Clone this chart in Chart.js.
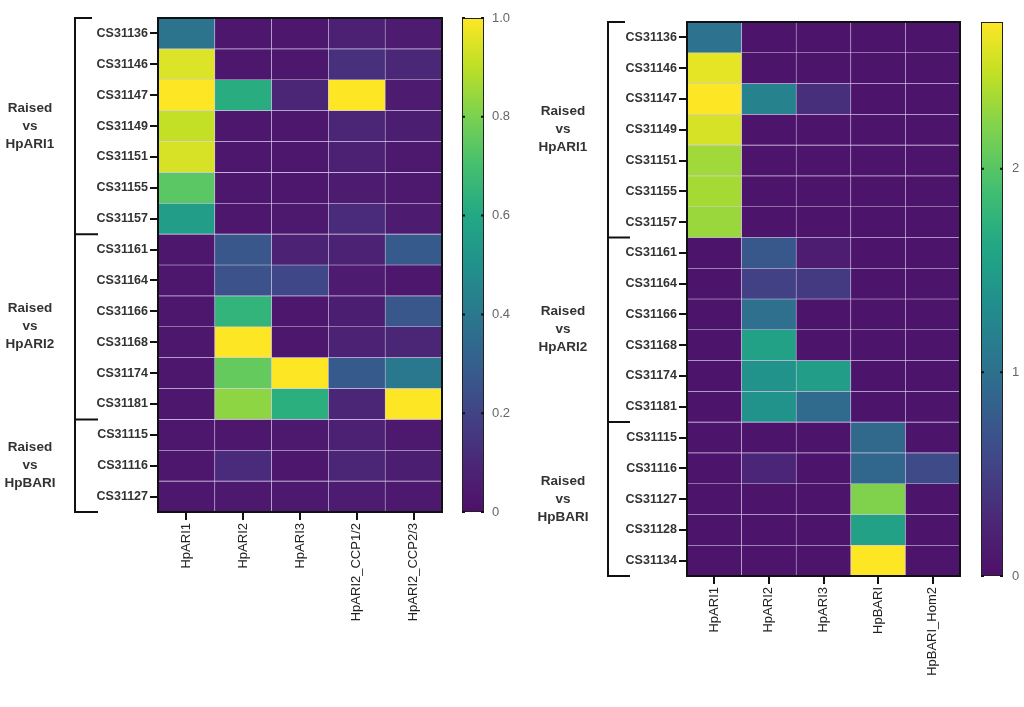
<!DOCTYPE html>
<html>
<head>
<meta charset="utf-8">
<script src="https://cdn.jsdelivr.net/npm/chart.js@4"></script>
<style>
  html, body { margin: 0; padding: 0; background: #fff; width: 1024px; height: 707px; overflow: hidden; }
  .wrap { position: absolute; top: 0; height: 707px; }
  #w1 { left: 0; width: 530px; }
  #w2 { left: 512px; width: 512px; }
  canvas { display: block; }
</style>
</head>
<body>
<div class="wrap" id="w1"><canvas id="c1" width="530" height="707" style="width:530px;height:707px"></canvas></div>
<div class="wrap" id="w2"><canvas id="c2" width="512" height="707" style="width:512px;height:707px"></canvas></div>
<script>
// ---------------- DATA ----------------
const leftRows = ['CS31136','CS31146','CS31147','CS31149','CS31151','CS31155','CS31157',
                  'CS31161','CS31164','CS31166','CS31168','CS31174','CS31181',
                  'CS31115','CS31116','CS31127'];
const leftCols = ['HpARI1','HpARI2','HpARI3','HpARI2_CCP1/2','HpARI2_CCP2/3'];
const leftValues = [
  [0.38, 0.03, 0.03, 0.07, 0.05],
  [0.95, 0.03, 0.03, 0.13, 0.10],
  [1.00, 0.62, 0.09, 1.00, 0.05],
  [0.91, 0.03, 0.03, 0.09, 0.06],
  [0.94, 0.03, 0.03, 0.07, 0.04],
  [0.74, 0.03, 0.03, 0.05, 0.04],
  [0.55, 0.03, 0.04, 0.11, 0.05],
  [0.03, 0.27, 0.08, 0.08, 0.28],
  [0.03, 0.25, 0.21, 0.05, 0.03],
  [0.03, 0.65, 0.03, 0.06, 0.27],
  [0.03, 1.00, 0.03, 0.08, 0.09],
  [0.03, 0.76, 1.00, 0.28, 0.40],
  [0.03, 0.83, 0.63, 0.09, 1.00],
  [0.03, 0.03, 0.04, 0.07, 0.04],
  [0.03, 0.11, 0.03, 0.09, 0.06],
  [0.03, 0.04, 0.04, 0.05, 0.04]
];
const leftGroups = ['HpARI1','HpARI2','HpBARI'];
const leftGroupSizes = [7, 6, 3];
const leftScaleMax = 1.0;
const leftScaleTicks = [0, 0.2, 0.4, 0.6, 0.8, 1.0];

const rightRows = ['CS31136','CS31146','CS31147','CS31149','CS31151','CS31155','CS31157',
                   'CS31161','CS31164','CS31166','CS31168','CS31174','CS31181',
                   'CS31115','CS31116','CS31127','CS31128','CS31134'];
const rightCols = ['HpARI1','HpARI2','HpARI3','HpBARI','HpBARI_Hom2'];
const rightValues = [
  [1.02, 0.05, 0.05, 0.05, 0.05],
  [2.62, 0.05, 0.05, 0.05, 0.05],
  [2.72, 1.20, 0.35, 0.05, 0.05],
  [2.55, 0.05, 0.05, 0.05, 0.05],
  [2.33, 0.05, 0.05, 0.05, 0.05],
  [2.35, 0.05, 0.05, 0.05, 0.05],
  [2.30, 0.05, 0.05, 0.05, 0.05],
  [0.05, 0.75, 0.15, 0.05, 0.05],
  [0.05, 0.52, 0.45, 0.05, 0.05],
  [0.05, 1.00, 0.05, 0.05, 0.05],
  [0.05, 1.55, 0.05, 0.05, 0.05],
  [0.05, 1.38, 1.50, 0.05, 0.05],
  [0.05, 1.38, 0.95, 0.05, 0.05],
  [0.05, 0.05, 0.05, 0.92, 0.05],
  [0.05, 0.25, 0.05, 0.90, 0.60],
  [0.05, 0.05, 0.05, 2.20, 0.05],
  [0.05, 0.05, 0.05, 1.55, 0.05],
  [0.05, 0.05, 0.05, 2.72, 0.05]
];
const rightGroups = ['HpARI1','HpARI2','HpBARI'];
const rightGroupSizes = [7, 6, 5];
const rightScaleMax = 2.72;
const rightScaleTicks = [0, 1, 2];

// ---------------- COLOUR MAP ----------------
const viridis = ['#4e1068','#4b2778','#414487','#355f8d','#2a788e','#21918c',
                 '#22a884','#44bf70','#7ad151','#bddf26','#fde725'];
function hexRgb(h){ return [parseInt(h.slice(1,3),16),parseInt(h.slice(3,5),16),parseInt(h.slice(5,7),16)]; }
function colorAt(t){
  t = Math.max(0, Math.min(1, t));
  const p = t * (viridis.length - 1);
  const i = Math.min(Math.floor(p), viridis.length - 2);
  const f = p - i;
  const a = hexRgb(viridis[i]), b = hexRgb(viridis[i+1]);
  const c = a.map((v,k)=>Math.round(v + (b[k]-v)*f));
  return `rgb(${c[0]},${c[1]},${c[2]})`;
}

const FONT = "'Liberation Sans', Arial, sans-serif";

function makeHeatmap(canvasId, rows, cols, values, groups, groupSizes, scaleMax, scaleTicks, tickFmt, d){
  const datasets = rows.map((r, ri) => ({
    label: r,
    data: cols.map(() => 1),
    backgroundColor: values[ri].map(v => colorAt(v / scaleMax)),
    borderColor: 'rgba(210,195,232,0.85)',
    borderWidth: 0.6,
    borderSkipped: false,
    barPercentage: 1,
    categoryPercentage: 1
  }));

  const decor = {
    id: 'decor',
    afterDraw(chart){
      const ctx = chart.ctx, ca = chart.chartArea;
      const y = chart.scales.y, cb = chart.scales.cb;
      ctx.save();
      // plot frame
      ctx.strokeStyle = '#111'; ctx.lineWidth = 2;
      ctx.strokeRect(ca.left, ca.top, ca.right - ca.left, ca.bottom - ca.top);
      // group brackets
      let start = 0;
      const bounds = [0];
      groupSizes.forEach(s => { start += s; bounds.push(start); });
      const px = bounds.map(b => y.getPixelForValue(b));
      ctx.beginPath();
      ctx.moveTo(d.bracketX, px[0]); ctx.lineTo(d.bracketX, px[px.length-1]);
      px.forEach((p, i) => {
        ctx.moveTo(d.bracketX - 1, p);
        ctx.lineTo(i === 0 ? d.bracketTopEnd : d.bracketEnd, p);
      });
      ctx.stroke();
      // group labels
      ctx.fillStyle = '#333';
      ctx.font = `bold 13.5px ${FONT}`;
      ctx.textAlign = 'center'; ctx.textBaseline = 'middle';
      groups.forEach((g, i) => {
        const cy = (px[i] + px[i+1]) / 2;
        ['Raised', 'vs', g].forEach((t, k) => ctx.fillText(t, d.labelX, cy + (k - 1) * 18));
      });
      // colour bar
      const x0 = ca.right + d.cbGap, w = d.cbW;
      const yt = cb.getPixelForValue(scaleMax), yb = cb.getPixelForValue(0);
      const grad = ctx.createLinearGradient(0, yb, 0, yt);
      viridis.forEach((c, i) => grad.addColorStop(i / (viridis.length - 1), c));
      ctx.fillStyle = grad;
      ctx.fillRect(x0, yt, w, yb - yt);
      ctx.lineWidth = 1; ctx.strokeStyle = '#222';
      ctx.strokeRect(x0 + 0.5, yt + 0.5, w - 1, yb - yt - 1);
      ctx.lineWidth = 2; ctx.strokeStyle = '#111';
      ctx.beginPath();
      cb.ticks.forEach(t => {
        const ty = cb.getPixelForValue(t.value);
        ctx.moveTo(x0, ty); ctx.lineTo(x0 + 3, ty);
        ctx.moveTo(x0 + w - 3, ty); ctx.lineTo(x0 + w, ty);
      });
      ctx.stroke();
      ctx.restore();
    }
  };

  return new Chart(document.getElementById(canvasId), {
    type: 'bar',
    data: { labels: cols, datasets },
    plugins: [decor],
    options: {
      responsive: false,
      animation: false,
      devicePixelRatio: 1,
      layout: { padding: { top: d.top, left: 0, right: 0, bottom: 0 } },
      plugins: { legend: { display: false }, tooltip: { enabled: false } },
      scales: {
        x: {
          stacked: true,
          grid: { offset: false, drawOnChartArea: false, drawTicks: true, tickLength: 8, color: '#111', lineWidth: 2 },
          border: { display: false },
          ticks: { maxRotation: 90, minRotation: 90, autoSkip: false, padding: 3, color: '#222',
                   font: { family: FONT, size: 13 } },
          afterFit: s => { s.height = d.xH; }
        },
        y: {
          type: 'linear', stacked: true, reverse: true, min: 0, max: rows.length,
          grid: { drawOnChartArea: false, drawTicks: true, tickLength: 8, color: '#111', lineWidth: 2 },
          border: { display: false },
          afterBuildTicks: s => { s.ticks = rows.map((r, i) => ({ value: i + 0.5 })); },
          ticks: { autoSkip: false, padding: 2, color: '#333', font: { family: FONT, size: 12.5, weight: 'bold' },
                   callback: (v, i) => rows[i] },
          afterFit: s => { s.width = d.yW; }
        },
        cb: {
          type: 'linear', position: 'right', min: 0, max: scaleMax,
          grid: { display: false, drawTicks: true, tickLength: d.cbLabelOff }, border: { display: false },
          afterBuildTicks: s => { s.ticks = scaleTicks.map(v => ({ value: v })); },
          ticks: { padding: 0, color: '#666', font: { family: FONT, size: 13 },
                   callback: v => tickFmt(v) },
          afterFit: s => { s.width = d.cbAxisW; }
        }
      }
    }
  });
}

makeHeatmap('c1', leftRows, leftCols, leftValues, leftGroups, leftGroupSizes, leftScaleMax, leftScaleTicks,
  v => v === 0 ? '0' : v.toFixed(1),
  { top: 18, xH: 195, yW: 158, cbAxisW: 88, bracketX: 75, bracketTopEnd: 92, bracketEnd: 98, labelX: 30,
    cbGap: 20, cbW: 22, cbLabelOff: 50 });

makeHeatmap('c2', rightRows, rightCols, rightValues, rightGroups, rightGroupSizes, rightScaleMax, rightScaleTicks,
  v => String(v),
  { top: 22, xH: 131, yW: 175, cbAxisW: 64, bracketX: 96, bracketTopEnd: 113, bracketEnd: 118, labelX: 51,
    cbGap: 21, cbW: 22, cbLabelOff: 52 });
</script>
</body>
</html>
